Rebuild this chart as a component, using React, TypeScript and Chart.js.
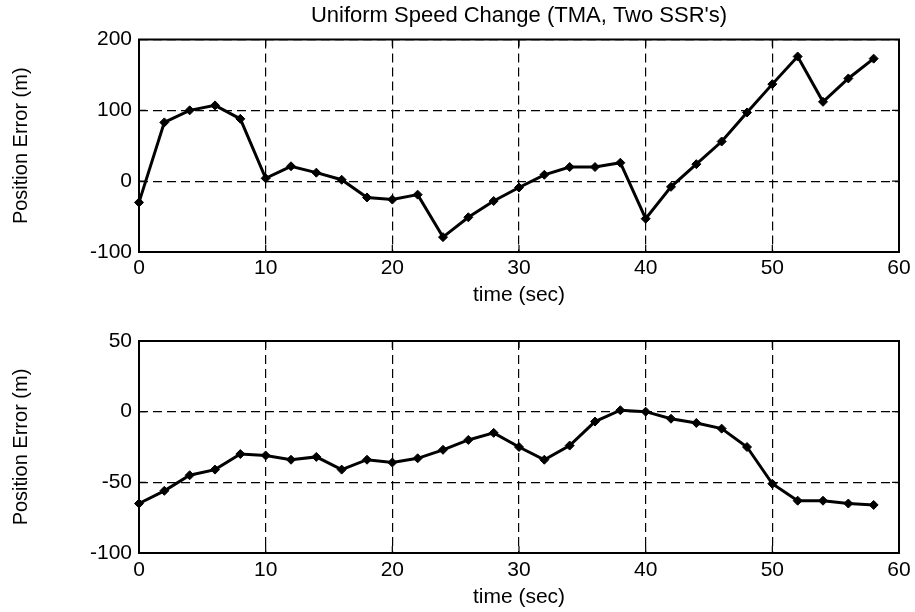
import React, { useEffect, useRef } from "react";
import { Chart, registerables } from "chart.js";

Chart.register(...registerables);

// ---- data ----
const timeSec = [0, 2, 4, 6, 8, 10, 12, 14, 16, 18, 20, 22, 24, 26, 28, 30, 32, 34, 36, 38, 40, 42, 44, 46, 48, 50, 52, 54, 56, 58];
const topError = [-30, 83, 100, 107, 88, 4, 21, 12, 2, -23, -26, -19, -79, -51, -28, -9, 9, 20, 20, 26, -53, -8, 24, 56, 97, 137, 176, 112, 145, 173];
const bottomError = [-65, -56, -45, -41, -30, -31, -34, -32, -41, -34, -36, -33, -27, -20, -15, -25, -34, -24, -7, 1, 0, -5, -8, -12, -25, -51, -63, -63, -65, -66];
const xTickValues = [0, 10, 20, 30, 40, 50, 60];
const topYTickValues = [-100, 0, 100, 200];
const bottomYTickValues = [-100, -50, 0, 50];
const titleText = "Uniform Speed Change (TMA, Two SSR's)";
const yTitleText = "Position Error (m)";
const xTitleText = "time (sec)";

const FAMILY = "'Liberation Sans', Arial, Helvetica, sans-serif";

const boxPlugin = {
  id: "matlabBox",
  beforeDatasetsDraw(chart: any) {
    const { ctx, chartArea: a, scales } = chart;
    ctx.save();
    ctx.setLineDash([]);
    ctx.strokeStyle = "#000";
    ctx.lineWidth = 1.2;
    ctx.beginPath();
    const tl = 7;
    scales.x.ticks.forEach((t: any) => {
      const px = scales.x.getPixelForValue(t.value);
      ctx.moveTo(px, a.bottom);
      ctx.lineTo(px, a.bottom - tl);
      ctx.moveTo(px, a.top);
      ctx.lineTo(px, a.top + tl);
    });
    scales.y.ticks.forEach((t: any) => {
      const py = scales.y.getPixelForValue(t.value);
      ctx.moveTo(a.left, py);
      ctx.lineTo(a.left + tl, py);
      ctx.moveTo(a.right, py);
      ctx.lineTo(a.right - tl, py);
    });
    ctx.stroke();
    ctx.lineWidth = 2;
    ctx.strokeRect(a.left, a.top, a.right - a.left, a.bottom - a.top);
    ctx.restore();
  },
};

function makeConfig(opts: {
  values: number[];
  yMin: number;
  yMax: number;
  yTicks: number[];
  showTitle: boolean;
  padTop: number;
  xHeight: number;
  xTickPad: number;
  xTitlePadBottom: number;
}) {
  const tickFont = { family: FAMILY, size: 21 };
  return {
    type: "line" as const,
    data: {
      datasets: [
        {
          data: timeSec.map((t, i) => ({ x: t, y: opts.values[i] })),
          borderColor: "#000",
          borderWidth: 3,
          pointStyle: "rectRot",
          pointRadius: 4.5,
          pointBackgroundColor: "#000",
          pointBorderColor: "#000",
          pointBorderWidth: 1,
          tension: 0,
          clip: false,
        },
      ],
    },
    options: {
      animation: false,
      responsive: false,
      events: [],
      layout: { padding: { left: 0, right: 16, top: opts.padTop, bottom: 0 } },
      plugins: {
        legend: { display: false },
        tooltip: { enabled: false },
        title: {
          display: opts.showTitle,
          fullSize: false,
          text: titleText,
          color: "#000",
          font: { family: FAMILY, size: 22, weight: "normal" },
          padding: { top: 3, bottom: 10.1 },
        },
      },
      scales: {
        x: {
          type: "linear",
          min: 0,
          max: 60,
          afterBuildTicks: (s: any) => {
            s.ticks = xTickValues.map((v) => ({ value: v }));
          },
          afterFit: (s: any) => {
            s.height = opts.xHeight;
            s.paddingLeft = 0;
            s.paddingRight = 0;
          },
          grid: { color: "#000", lineWidth: 1.2, drawTicks: false },
          border: { display: false, dash: [9, 5] },
          ticks: { color: "#000", font: tickFont, padding: opts.xTickPad, maxRotation: 0, autoSkip: false },
          title: {
            display: true,
            text: xTitleText,
            color: "#000",
            font: { family: FAMILY, size: 21, lineHeight: 1 },
            padding: { top: 0, bottom: opts.xTitlePadBottom },
          },
        },
        y: {
          type: "linear",
          min: opts.yMin,
          max: opts.yMax,
          afterBuildTicks: (s: any) => {
            s.ticks = opts.yTicks.map((v) => ({ value: v }));
          },
          afterFit: (s: any) => {
            s.width = 139;
            s.paddingTop = 0;
            s.paddingBottom = 0;
          },
          grid: { color: "#000", lineWidth: 1.2, drawTicks: false },
          border: { display: false, dash: [9, 5] },
          ticks: { color: "#000", font: tickFont, padding: 7, autoSkip: false },
          title: {
            display: true,
            text: yTitleText,
            color: "#000",
            font: { family: FAMILY, size: 20 },
            padding: { top: 9, bottom: 0 },
          },
        },
      },
    },
    plugins: [boxPlugin],
  };
}

export default function App() {
  const topRef = useRef<HTMLCanvasElement | null>(null);
  const botRef = useRef<HTMLCanvasElement | null>(null);

  useEffect(() => {
    const c1 = new Chart(
      topRef.current as HTMLCanvasElement,
      makeConfig({
        values: topError,
        yMin: -100,
        yMax: 200,
        yTicks: topYTickValues,
        showTitle: true,
        padTop: 0,
        xHeight: 54,
        xTickPad: 4,
        xTitlePadBottom: 0.5,
      }) as any
    );
    const c2 = new Chart(
      botRef.current as HTMLCanvasElement,
      makeConfig({
        values: bottomError,
        yMin: -100,
        yMax: 50,
        yTicks: bottomYTickValues,
        showTitle: false,
        padTop: 35,
        xHeight: 59,
        xTickPad: 4.5,
        xTitlePadBottom: 4.5,
      }) as any
    );
    return () => {
      c1.destroy();
      c2.destroy();
    };
  }, []);

  return (
    <div style={{ position: "absolute", left: 0, top: 0, width: 915, height: 612, background: "#fff" }}>
      <canvas ref={topRef} width={915} height={306} style={{ position: "absolute", left: 0, top: 0, width: 915, height: 306 }} />
      <canvas ref={botRef} width={915} height={306} style={{ position: "absolute", left: 0, top: 306, width: 915, height: 306 }} />
    </div>
  );
}
